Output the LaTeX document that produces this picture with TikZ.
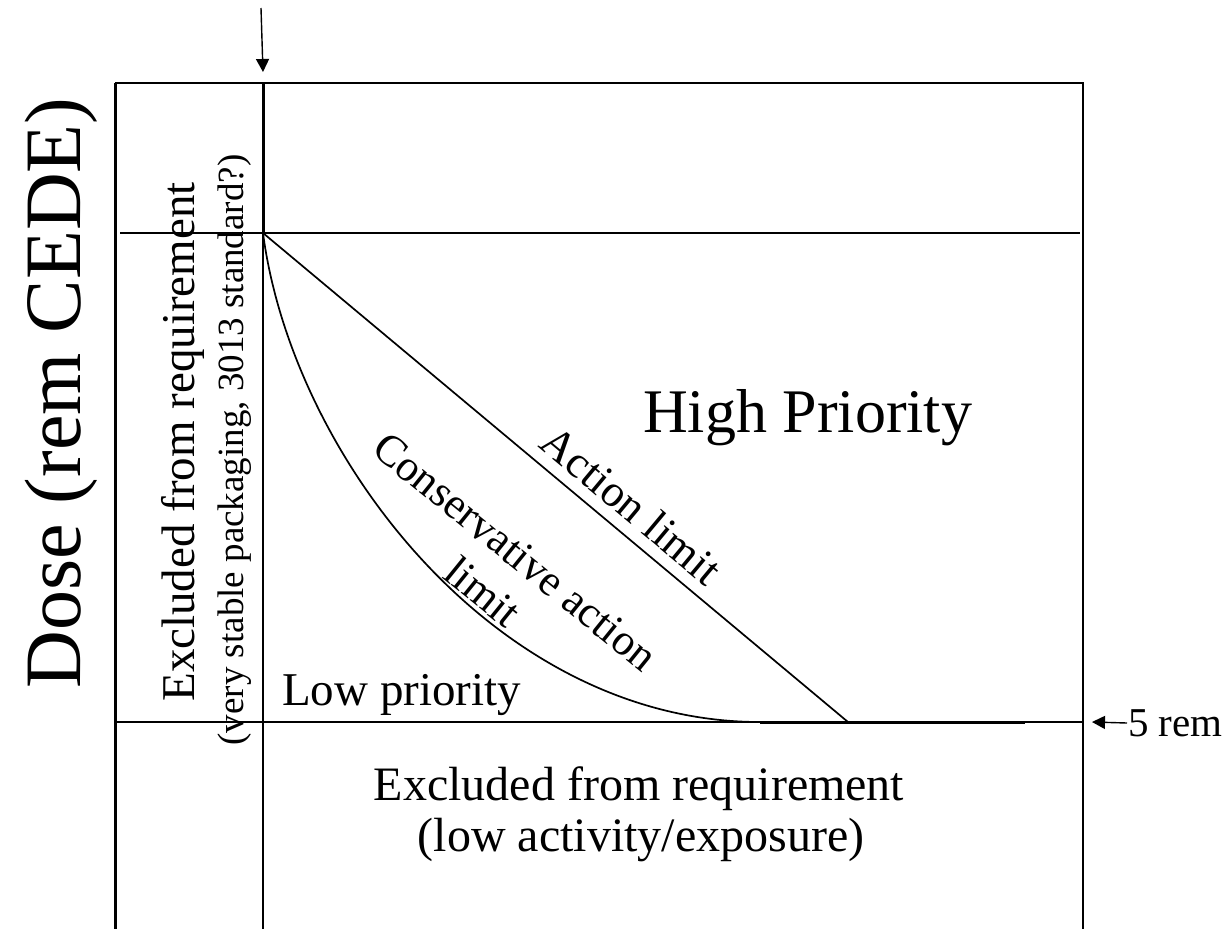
\documentclass[tikz,border=0pt]{standalone}
\usepackage{fontspec}
\setmainfont{Liberation Serif}
\usetikzlibrary{arrows.meta}

\begin{document}
\begin{tikzpicture}[x=1pt,y=-1pt,lbl/.style={inner sep=0pt},frame/.style={line width=1.7pt},heavy/.style={line width=3pt},arrow/.style={-{Triangle[length=13pt,width=13pt]},line width=1.4pt}]
\useasboundingbox (0,0) rectangle (1224,929);
\coordinate (tl) at (115,83); \coordinate (bl) at (115,929); \coordinate (tr) at (1083,83); \coordinate (br) at (1083,929);
\coordinate (ct) at (263,83); \coordinate (orig) at (263,233); \coordinate (cb) at (263,929);
\coordinate (hl) at (120,233); \coordinate (hr) at (1080,233); \coordinate (ll) at (115,722); \coordinate (lr) at (1083,722);
\coordinate (act) at (848,722); \coordinate (cons) at (760,722); \coordinate (flat) at (1025,722);
\coordinate (mark) at (261,8); \coordinate (marktip) at (263,72); \coordinate (remtip) at (1092,722);
% frame and grid lines
\draw[heavy] (bl)--(tl); \draw[frame] (tl)--(tr)--(br); \draw[heavy] (ct)--(orig); \draw[frame] (orig)--(cb);
\draw[frame] (hl)--(hr); \draw[frame] (ll)--(lr);
% limits
\draw[frame] (orig)--node[sloped,above,inner sep=11pt,pos=.6,font=\fontsize{45}{54}\selectfont] (actlbl) {Action limit} (act);
\draw[frame] (orig) .. controls (292,455) and (495,722) .. (cons); \draw[heavy] (cons)--(flat);
\node[lbl,rotate=-39,align=center,font=\fontsize{44}{52}\selectfont] (conslbl) at (499,572) {Conservative action\\limit};
% region labels
\node[lbl,rotate=90,anchor=base,font=\fontsize{80}{96}\selectfont] (dose) at (80,393) {Dose (rem CEDE)};
\node[lbl,rotate=90,anchor=base,font=\fontsize{47}{56}\selectfont] (exclv) at (194,442) {Excluded from requirement};
\node[lbl,rotate=90,anchor=base,font=\fontsize{37}{44}\selectfont] (exclvb) at (243,450) {(very stable packaging, 3013 standard?)};
\node[lbl,anchor=base west,font=\fontsize{62}{74}\selectfont] (high) at (643,432) {High Priority};
\node[lbl,anchor=base west,font=\fontsize{47}{56}\selectfont] (low) at (282,705) {Low priority};
\node[lbl,anchor=base,font=\fontsize{48}{57}\selectfont] (exclh) at (639,800) {Excluded from requirement};
\node[lbl,anchor=base,font=\fontsize{48}{57}\selectfont] (exclhb) at (641,851) {(low activity/exposure)};
\node[inner sep=1pt,anchor=west,font=\fontsize{41}{49}\selectfont] (rem) at (1127,723) {5 rem};
% markers
\draw[arrow] (mark)--(marktip); \draw[arrow] (rem.west)--(remtip);
\end{tikzpicture}
\end{document}
